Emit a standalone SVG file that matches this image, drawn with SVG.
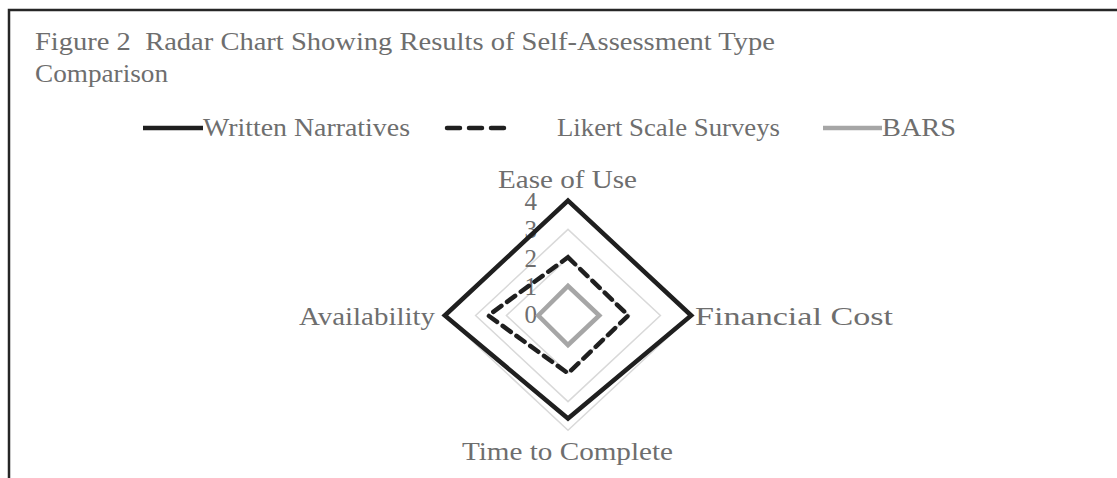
<svg xmlns="http://www.w3.org/2000/svg" width="1117" height="478" viewBox="0 0 1117 478">
<style>
text{font-family:"Liberation Serif","Times New Roman",serif;fill:#6e6e6e;font-size:25px;white-space:pre}
.ax{font-size:25px}
.grid{fill:none;stroke:#d9d9d9;stroke-width:1.5}
.wn{fill:none;stroke:#1f1f1f;stroke-width:4.5;stroke-linejoin:miter}
.ls{fill:none;stroke:#1f1f1f;stroke-width:4.5;stroke-dasharray:10 7;stroke-linecap:round}
.lsleg{fill:none;stroke:#1f1f1f;stroke-width:4.5;stroke-dasharray:13 9;stroke-linecap:round}
.bars{fill:none;stroke:#a6a6a6;stroke-width:4.5}
</style>
<rect width="1117" height="478" fill="#ffffff"/>
<g id="frame"><path d="M9 478 V10 H1117" fill="none" stroke="#262626" stroke-width="2.5"/></g>
<g id="title">
<text x="35" y="50" textLength="740" lengthAdjust="spacingAndGlyphs">Figure 2  Radar Chart Showing Results of Self-Assessment Type</text>
<text x="35" y="82" textLength="133" lengthAdjust="spacingAndGlyphs">Comparison</text>
</g>
<g id="legend">
<line x1="143" y1="128" x2="203" y2="128" class="wn"/>
<text x="203" y="136" textLength="207" lengthAdjust="spacingAndGlyphs">Written Narratives</text>
<line x1="447" y1="128" x2="504" y2="128" class="lsleg"/>
<text x="557" y="136" textLength="223" lengthAdjust="spacingAndGlyphs">Likert Scale Surveys</text>
<line x1="823" y1="128" x2="882" y2="128" class="bars"/>
<text x="882" y="136" textLength="74" lengthAdjust="spacingAndGlyphs">BARS</text>
</g>
<g id="grid">
<polygon class="grid" points="568,286.8 598.8,315.5 568,344.2 537.2,315.5"/>
<polygon class="grid" points="568,258.1 629.6,315.5 568,372.9 506.4,315.5"/>
<polygon class="grid" points="568,229.4 660.4,315.5 568,401.6 475.6,315.5"/>
<polygon class="grid" points="568,200.7 691.2,315.5 568,430.3 444.8,315.5"/>
</g>
<g id="axis-labels">
<text class="ax" x="537" y="210" text-anchor="end">4</text>
<text class="ax" x="537" y="238" text-anchor="end">3</text>
<text class="ax" x="537" y="267" text-anchor="end">2</text>
<text class="ax" x="537" y="295" text-anchor="end">1</text>
<text class="ax" x="537" y="323" text-anchor="end">0</text>
</g>
<g id="series">
<polygon id="written-narratives" class="wn" points="568,200.7 691.2,315.5 568,418.5 444.8,315.5"/>
<polygon id="likert-scale-surveys" class="ls" points="568,257.3 628.3,315.5 568,373.3 488.3,315.5"/>
<polygon id="bars" class="bars" points="568,286 599.3,315.5 568,345 538.3,315.5"/>
</g>
<g id="category-labels">
<text x="498" y="188" textLength="139" lengthAdjust="spacingAndGlyphs">Ease of Use</text>
<text x="299" y="325" textLength="136" lengthAdjust="spacingAndGlyphs">Availability</text>
<text x="695" y="325" textLength="198" lengthAdjust="spacingAndGlyphs">Financial Cost</text>
<text x="462" y="460" textLength="211" lengthAdjust="spacingAndGlyphs">Time to Complete</text>
</g>
</svg>
